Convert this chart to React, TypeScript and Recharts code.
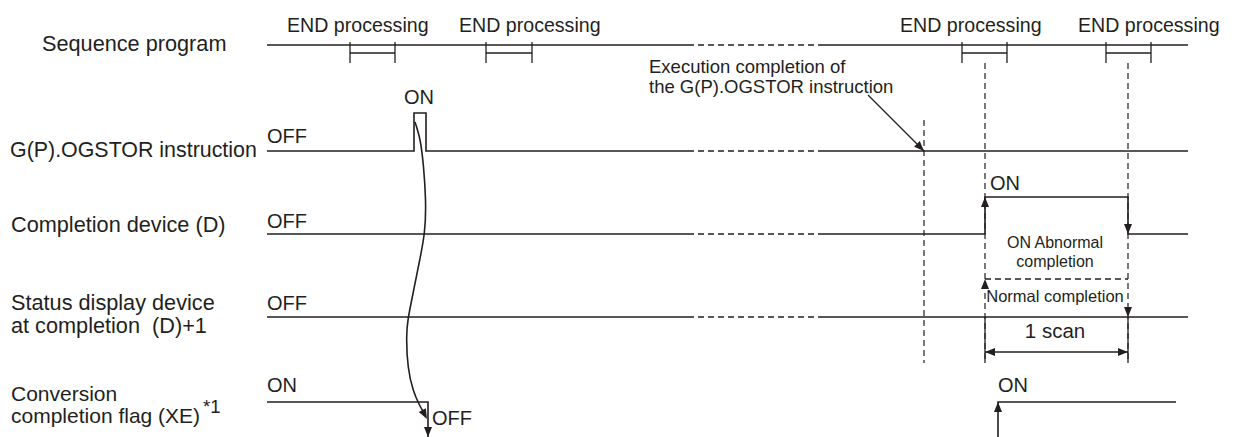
import { LineChart, Line, XAxis, YAxis, ReferenceLine, ReferenceDot } from "recharts"

const W = 1243
const H = 437
const INK = "#231f20"
const FONT = "'Liberation Sans', Arial, Helvetica, sans-serif"

// time axis (x): trace start / stop and the omitted stretch of the scan
const T_START = 267
const T_CUT = [688, 818]
const T_STOP = 1188

// END processing windows on the sequence program line
const END_WINDOWS = [
  [350, 395],
  [486, 532],
  [962, 1007],
  [1106, 1151],
]
const END_LABEL_AT = [287, 459, 900, 1078]

// lane levels (y axis, 0 at the top)
const SEQ_Y = 45
const INSTR = { off: 151, on: 113 }
const DONE = { off: 234, on: 197 }
const STAT = { off: 317, on: 279 }
const FLAG = { on: 402, off: 437 }

// edges
const INSTR_PULSE = [414, 426]
const EXEC_DONE_T = 924
const DONE_RISE = 985
const DONE_FALL = 1128
const FLAG_FALL = 428
const FLAG_RISE = 998
const FLAG_ON_END = 1176

// curved arrow from the instruction pulse down to the flag going OFF
const CURVE_T = [415, 420, 423.5, 425.5, 424.3, 418.3, 411.7, 408.3, 406.7, 408.3, 413.3, 419, 424]
const CURVE_Y = [122, 140, 167, 200, 233, 267, 300, 318, 337, 367, 390, 404, 413]

type P = { t: number; y: number }
const pts = (arr: number[][]): P[] => arr.map(([t, y]) => ({ t, y }))

const SOLID: P[][] = [
  pts([[T_START, SEQ_Y], [T_CUT[0], SEQ_Y]]),
  pts([[T_CUT[1], SEQ_Y], [T_STOP, SEQ_Y]]),
  pts([
    [T_START, INSTR.off],
    [INSTR_PULSE[0], INSTR.off],
    [INSTR_PULSE[0], INSTR.on],
    [INSTR_PULSE[1], INSTR.on],
    [INSTR_PULSE[1], INSTR.off],
    [T_CUT[0], INSTR.off],
  ]),
  pts([[T_CUT[1], INSTR.off], [T_STOP, INSTR.off]]),
  pts([[T_START, DONE.off], [T_CUT[0], DONE.off]]),
  pts([
    [T_CUT[1], DONE.off],
    [DONE_RISE, DONE.off],
    [DONE_RISE, DONE.on],
    [DONE_FALL, DONE.on],
    [DONE_FALL, DONE.off],
    [T_STOP, DONE.off],
  ]),
  pts([[T_START, STAT.off], [T_CUT[0], STAT.off]]),
  pts([[T_CUT[1], STAT.off], [T_STOP, STAT.off]]),
  pts([[T_START, FLAG.on], [FLAG_FALL, FLAG.on], [FLAG_FALL, FLAG.off]]),
  pts([[FLAG_RISE, FLAG.off], [FLAG_RISE, FLAG.on], [FLAG_ON_END, FLAG.on]]),
]

const DASHED: P[][] = [
  pts([[T_CUT[0], SEQ_Y], [T_CUT[1], SEQ_Y]]),
  pts([[T_CUT[0], INSTR.off], [T_CUT[1], INSTR.off]]),
  pts([[T_CUT[0], DONE.off], [T_CUT[1], DONE.off]]),
  pts([[T_CUT[0], STAT.off], [T_CUT[1], STAT.off]]),
  pts([[DONE_RISE, STAT.on], [DONE_FALL, STAT.on]]),
]

const CURVE: P[] = CURVE_T.map((t, i) => ({ t, y: CURVE_Y[i] }))

// vertical guides: [t, from, to]
const GUIDES = [
  [EXEC_DONE_T, 120, 363],
  [DONE_RISE, 63, 363],
  [DONE_FALL, 63, 363],
]

// arrowheads: [t, y, direction in degrees, 0 = right, 90 = down]
const ARROWS = [
  [DONE_RISE, DONE.on, -90],
  [DONE_FALL, DONE.off, 90],
  [DONE_RISE, STAT.on, -90],
  [DONE_FALL, STAT.off, 90],
  [DONE_RISE, 352, 180],
  [DONE_FALL, 352, 0],
  [FLAG_FALL, FLAG.off, 90],
  [FLAG_RISE, FLAG.on, -90],
  [427, 419, 62],
  [EXEC_DONE_T, INSTR.off, 45],
]

type T = { t: number; y: number; text: string; size: number; anchor?: "start" | "middle" }
const TEXTS: T[] = [
  { t: 42, y: 51, text: "Sequence program", size: 21.7 },
  { t: 10, y: 157, text: "G(P).OGSTOR instruction", size: 21.4 },
  { t: 11, y: 232, text: "Completion device (D)", size: 21.7 },
  { t: 11, y: 310, text: "Status display device", size: 21.7 },
  { t: 11, y: 333, text: "at completion  (D)+1", size: 21.7 },
  { t: 11, y: 400.5, text: "Conversion", size: 21 },
  { t: 11, y: 422.5, text: "completion flag (XE)", size: 21 },
  { t: 203, y: 413, text: "*1", size: 18.5 },
  ...END_LABEL_AT.map((t) => ({ t, y: 32, text: "END processing", size: 19.6 })),
  { t: 267, y: 143, text: "OFF", size: 20 },
  { t: 267, y: 228, text: "OFF", size: 20 },
  { t: 267, y: 310, text: "OFF", size: 20 },
  { t: 267, y: 392, text: "ON", size: 20 },
  { t: 404, y: 104, text: "ON", size: 20 },
  { t: 432, y: 425, text: "OFF", size: 20 },
  { t: 990, y: 190, text: "ON", size: 20 },
  { t: 998, y: 392, text: "ON", size: 20 },
  { t: 649, y: 73, text: "Execution completion of", size: 18.5 },
  { t: 649, y: 93, text: "the G(P).OGSTOR instruction", size: 18.5 },
  { t: 1055, y: 248, text: "ON Abnormal", size: 16, anchor: "middle" },
  { t: 1055, y: 267, text: "completion", size: 16, anchor: "middle" },
  { t: 1055, y: 302, text: "Normal completion", size: 16.5, anchor: "middle" },
  { t: 1055, y: 338, text: "1 scan", size: 20.5, anchor: "middle" },
]

const arrowShape = (deg: number, len = 10, half = 4) =>
  function ArrowHead(p: any) {
    const a = (deg * Math.PI) / 180
    const c = Math.cos(a)
    const s = Math.sin(a)
    const bx = p.cx - c * len
    const by = p.cy - s * len
    const pts = [
      [p.cx, p.cy],
      [bx - s * half, by + c * half],
      [bx + s * half, by - c * half],
    ]
    return <polygon points={pts.map((q) => q.join(",")).join(" ")} fill={INK} />
  }

const textShape = (d: T) =>
  function TextMark(p: any) {
    return (
      <text
        x={p.cx}
        y={p.cy}
        fontSize={d.size}
        fontFamily={FONT}
        fill={INK}
        textAnchor={d.anchor ?? "start"}
        style={{ whiteSpace: "pre" }}
      >
        {d.text}
      </text>
    )
  }

const seg = (x1: number, y1: number, x2: number, y2: number) => [
  { x: x1, y: y1 },
  { x: x2, y: y2 },
]

export default function App() {
  return (
    <div style={{ position: "absolute", left: 0, top: 0, width: W, height: H, background: "#fff" }}>
      <LineChart width={W} height={H} margin={{ top: 0, right: 0, bottom: 0, left: 0 }}>
        <XAxis type="number" dataKey="t" domain={[0, W]} allowDataOverflow hide />
        <YAxis type="number" dataKey="y" domain={[0, H]} allowDataOverflow reversed hide />

        {GUIDES.map(([t, a, b], i) => (
          <ReferenceLine
            key={`g${i}`}
            segment={seg(t, a, t, b)}
            stroke={INK}
            strokeWidth={1.2}
            strokeDasharray="6 4"
            ifOverflow="visible"
          />
        ))}

        {SOLID.map((d, i) => (
          <Line
            key={`s${i}`}
            data={d}
            dataKey="y"
            type="linear"
            stroke={INK}
            strokeWidth={1.6}
            dot={false}
            activeDot={false}
            isAnimationActive={false}
          />
        ))}
        {DASHED.map((d, i) => (
          <Line
            key={`d${i}`}
            data={d}
            dataKey="y"
            type="linear"
            stroke={INK}
            strokeWidth={1.3}
            strokeDasharray="6 4"
            dot={false}
            activeDot={false}
            isAnimationActive={false}
          />
        ))}
        <Line
          data={CURVE}
          dataKey="y"
          type="natural"
          stroke={INK}
          strokeWidth={1.6}
          dot={false}
          activeDot={false}
          isAnimationActive={false}
        />

        {END_WINDOWS.map(([a, b], i) => [
          <ReferenceLine key={`ea${i}`} segment={seg(a, 42, a, 63)} stroke={INK} strokeWidth={1.3} />,
          <ReferenceLine key={`eb${i}`} segment={seg(b, 42, b, 63)} stroke={INK} strokeWidth={1.3} />,
          <ReferenceLine key={`ec${i}`} segment={seg(a, 53, b, 53)} stroke={INK} strokeWidth={1.3} />,
        ])}

        {/* 1 scan dimension */}
        <ReferenceLine segment={seg(DONE_RISE, STAT.off, DONE_RISE, 363)} stroke={INK} strokeWidth={1.3} />
        <ReferenceLine segment={seg(DONE_FALL, STAT.off, DONE_FALL, 363)} stroke={INK} strokeWidth={1.3} />
        <ReferenceLine segment={seg(DONE_RISE, 352, DONE_FALL, 352)} stroke={INK} strokeWidth={1.3} />

        {/* pointer to execution completion */}
        <ReferenceLine segment={seg(868, 95, EXEC_DONE_T, INSTR.off)} stroke={INK} strokeWidth={1.3} />

        {ARROWS.map(([t, y, deg], i) => (
          <ReferenceDot key={`a${i}`} x={t} y={y} r={0} ifOverflow="visible" shape={arrowShape(deg)} />
        ))}

        {TEXTS.map((d, i) => (
          <ReferenceDot key={`t${i}`} x={d.t} y={d.y} r={0} ifOverflow="visible" shape={textShape(d)} />
        ))}
      </LineChart>
    </div>
  )
}
